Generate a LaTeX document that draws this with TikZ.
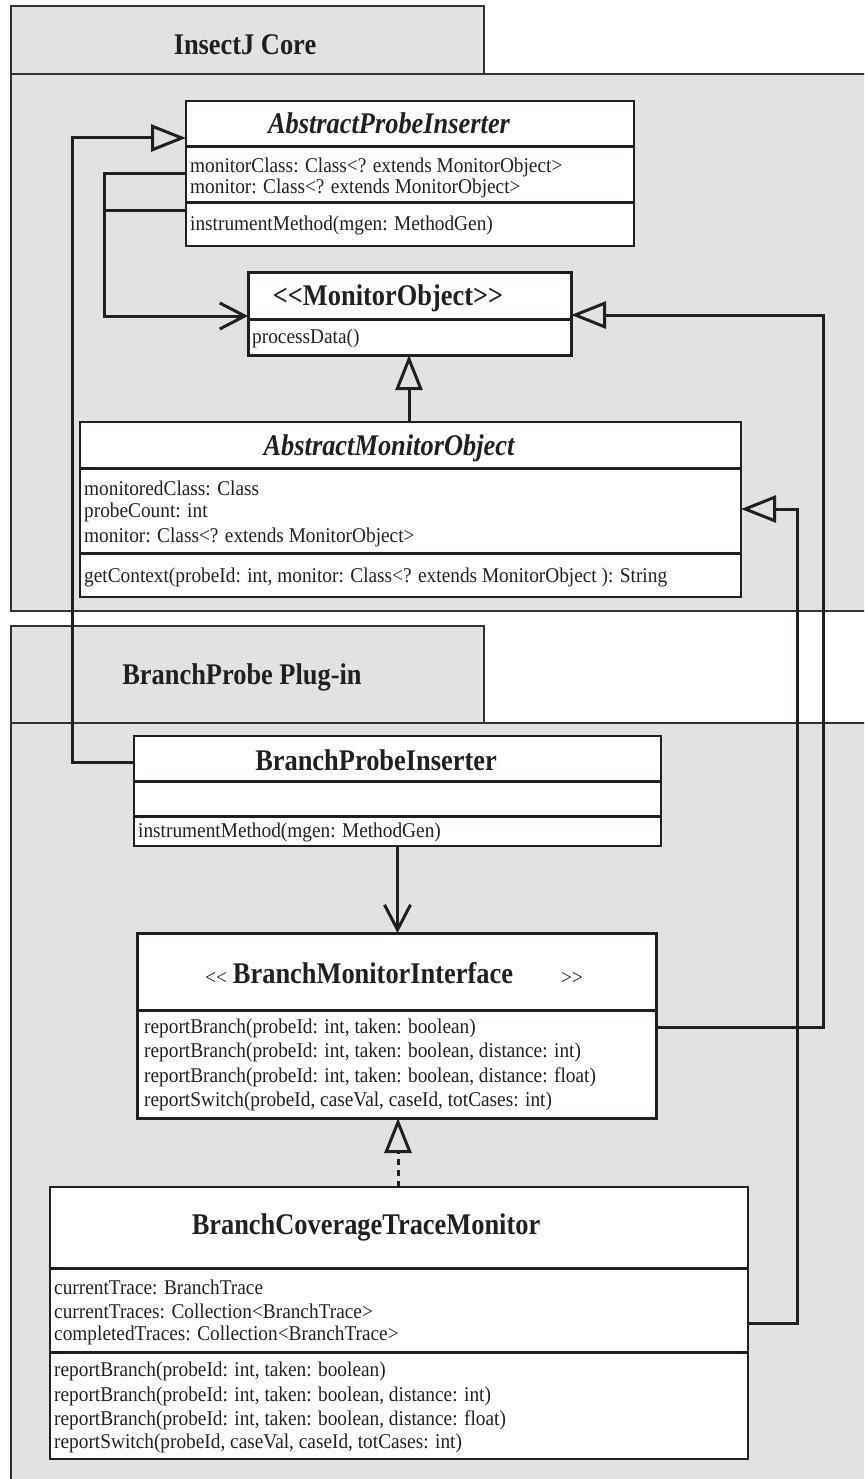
\documentclass[tikz,border=0pt]{standalone}
\usepackage{fontspec}
\setmainfont{Liberation Serif}
\newfontfamily\umlfont{Liberation Serif}[FakeStretch=0.92]
\newfontfamily\headfont{Liberation Serif}[FakeStretch=0.88]
\usetikzlibrary{arrows.meta,calc}

\definecolor{pkgfill}{RGB}{225,226,228}
\definecolor{ink}{RGB}{35,31,32}
\definecolor{pkgedge}{RGB}{50,50,50}

% doubled angle brackets, kept apart so no guillemet ligature forms
\newcommand\dLT{<\kern0pt<}
\newcommand\dGT{>\kern0pt>}

\tikzset{
  pkgline/.style={draw=pkgedge, line width=1.3pt},
  cls/.style={draw=ink, fill=white, line width=1.4pt, inner sep=0pt, outer sep=0pt},
  iface/.style={cls, line width=3pt},
  sep/.style={draw=ink, line width=3pt},
  txt/.style={anchor=west, inner sep=0pt, text=ink, font=\umlfont\fontsize{21}{24}\selectfont},
  ctitle/.style={inner sep=0pt, text=ink, font=\headfont\fontsize{30}{32}\selectfont\bfseries},
  ititle/.style={ctitle, font=\headfont\fontsize{30}{32}\selectfont\bfseries\itshape},
  conn/.style={draw=ink, line width=3pt},
  gen/.style={conn, -{Triangle[open, length=35pt, width=27pt]}},
  assoc/.style={conn, -{Straight Barb[length=25pt, width=26pt]}},
  realize/.style={gen, dash pattern=on 6pt off 5pt},
}

\begin{document}
\begin{tikzpicture}[x=1pt,y=-1pt]
\useasboundingbox (0,0) rectangle (864,1479);

% ---------- packages ----------
\begin{scope}
  \clip (0,0) rectangle (864,1479);
  % InsectJ Core
  \fill[pkgfill] (11,6) rectangle (484,74);
  \fill[pkgfill] (11,74) rectangle (870,611);
  \draw[pkgline] (11,74) -- (11,6) -- (484,6) -- (484,74);
  \draw[pkgline] (870,74) -- (11,74) -- (11,611) -- (870,611);
  % BranchProbe Plug-in
  \fill[pkgfill] (11,626) rectangle (484,723);
  \fill[pkgfill] (11,723) rectangle (870,1490);
  \draw[pkgline] (11,723) -- (11,626) -- (484,626) -- (484,723);
  \draw[pkgline] (870,723) -- (11,723) -- (11,1490);
\end{scope}
\node[ctitle] (corelbl) at (245,45) {InsectJ Core};
\node[ctitle] (pluglbl) at (242,677) {BranchProbe Plug-in};

% ---------- AbstractProbeInserter ----------
\node[cls, minimum width=448pt, minimum height=145pt] (api) at (410,173.5) {};
\node[ititle] (apit) at (389,123) {AbstractProbeInserter};
\draw[sep] (api.west |- 0,147) -- (api.east |- 0,147);
\draw[sep] (api.west |- 0,203) -- (api.east |- 0,203);
\node[txt] (apia1) at (190,167) {monitorClass: Class<? extends MonitorObject>};
\node[txt] (apia2) at (190,188) {monitor: Class<? extends MonitorObject>};
\node[txt] (apim1) at (190,225) {instrumentMethod(mgen: MethodGen)};

% ---------- <<MonitorObject>> ----------
\node[iface, minimum width=323pt, minimum height=83pt] (mo) at (409.5,313.5) {};
\node[ctitle] (mot) at (388,298) {\dLT MonitorObject\dGT};
\draw[sep] (mo.west |- 0,319) -- (mo.east |- 0,319);
\node[txt] (mom1) at (252,338) {processData()};

% ---------- AbstractMonitorObject ----------
\node[cls, minimum width=661pt, minimum height=175pt] (amo) at (410.5,509.5) {};
\node[ititle] (amot) at (389,448) {AbstractMonitorObject};
\draw[sep] (amo.west |- 0,468) -- (amo.east |- 0,468);
\draw[sep] (amo.west |- 0,553) -- (amo.east |- 0,553);
\node[txt] (amoa1) at (84,488) {monitoredClass: Class};
\node[txt] (amoa2) at (84,512) {probeCount: int};
\node[txt] (amoa3) at (84,537) {monitor: Class<? extends MonitorObject>};
\node[txt] (amom1) at (84,577) {getContext(probeId: int, monitor: Class<? extends MonitorObject ): String};

% ---------- BranchProbeInserter ----------
\node[cls, minimum width=527pt, minimum height=110pt] (bpi) at (397.5,791) {};
\node[ctitle] (bpit) at (376,760) {BranchProbeInserter};
\draw[sep] (bpi.west |- 0,781) -- (bpi.east |- 0,781);
\draw[sep] (bpi.west |- 0,816) -- (bpi.east |- 0,816);
\node[txt] (bpim1) at (138,832) {instrumentMethod(mgen: MethodGen)};

% ---------- <<BranchMonitorInterface>> ----------
\node[iface, minimum width=519pt, minimum height=185pt] (bmi) at (396.5,1025.5) {};
\node[txt, anchor=center] (bmil) at (216,978) {\dLT};
\node[ctitle] (bmit) at (373,973) {BranchMonitorInterface};
\node[txt, anchor=center] (bmir) at (572,978) {\dGT};
\draw[sep] (bmi.west |- 0,1010) -- (bmi.east |- 0,1010);
\node[txt] (bmim1) at (144,1028) {reportBranch(probeId: int, taken: boolean)};
\node[txt] (bmim2) at (144,1052) {reportBranch(probeId: int, taken: boolean, distance: int)};
\node[txt] (bmim3) at (144,1077) {reportBranch(probeId: int, taken: boolean, distance: float)};
\node[txt] (bmim4) at (144,1101) {reportSwitch(probeId, caseVal, caseId, totCases: int)};

% ---------- BranchCoverageTraceMonitor ----------
\node[cls, minimum width=698pt, minimum height=272pt] (bctm) at (399,1323) {};
\node[ctitle] (bctmt) at (366,1227) {BranchCoverageTraceMonitor};
\draw[sep] (bctm.west |- 0,1268) -- (bctm.east |- 0,1268);
\draw[sep] (bctm.west |- 0,1352) -- (bctm.east |- 0,1352);
\node[txt] (bctma1) at (54,1287) {currentTrace: BranchTrace};
\node[txt] (bctma2) at (54,1311) {currentTraces: Collection<BranchTrace>};
\node[txt] (bctma3) at (54,1335) {completedTraces: Collection<BranchTrace>};
\node[txt] (bctmm1) at (54,1371) {reportBranch(probeId: int, taken: boolean)};
\node[txt] (bctmm2) at (54,1396) {reportBranch(probeId: int, taken: boolean, distance: int)};
\node[txt] (bctmm3) at (54,1420) {reportBranch(probeId: int, taken: boolean, distance: float)};
\node[txt] (bctmm4) at (54,1443) {reportSwitch(probeId, caseVal, caseId, totCases: int)};

% ---------- relations ----------
% BranchProbeInserter extends AbstractProbeInserter
\draw[gen] (bpi.west |- 0,762) -- (72,762) -- (72,138) -- (api.west |- 0,138);
% AbstractProbeInserter uses MonitorObject
\draw[assoc] (api.west |- 0,174) -- (104,174) -- (104,316) -- (mo.west |- 0,316);
\draw[conn] (api.west |- 0,211) -- (104,211);
% AbstractMonitorObject implements MonitorObject
\draw[gen] (amo.north -| 409,0) -- (mo.south -| 409,0);
% BranchMonitorInterface extends MonitorObject
\draw[gen] (bmi.east |- 0,1027) -- (823,1027) -- (823,315) -- (mo.east |- 0,315);
% BranchCoverageTraceMonitor extends AbstractMonitorObject
\draw[gen] (bctm.east |- 0,1323) -- (797,1323) -- (797,509) -- (amo.east |- 0,509);
% BranchProbeInserter uses BranchMonitorInterface
\draw[assoc] (bpi.south) -- (bpi.south |- bmi.north);
% BranchCoverageTraceMonitor realizes BranchMonitorInterface
\draw[realize] (bctm.north -| 398,0) -- (bmi.south -| 398,0);
\end{tikzpicture}
\end{document}
